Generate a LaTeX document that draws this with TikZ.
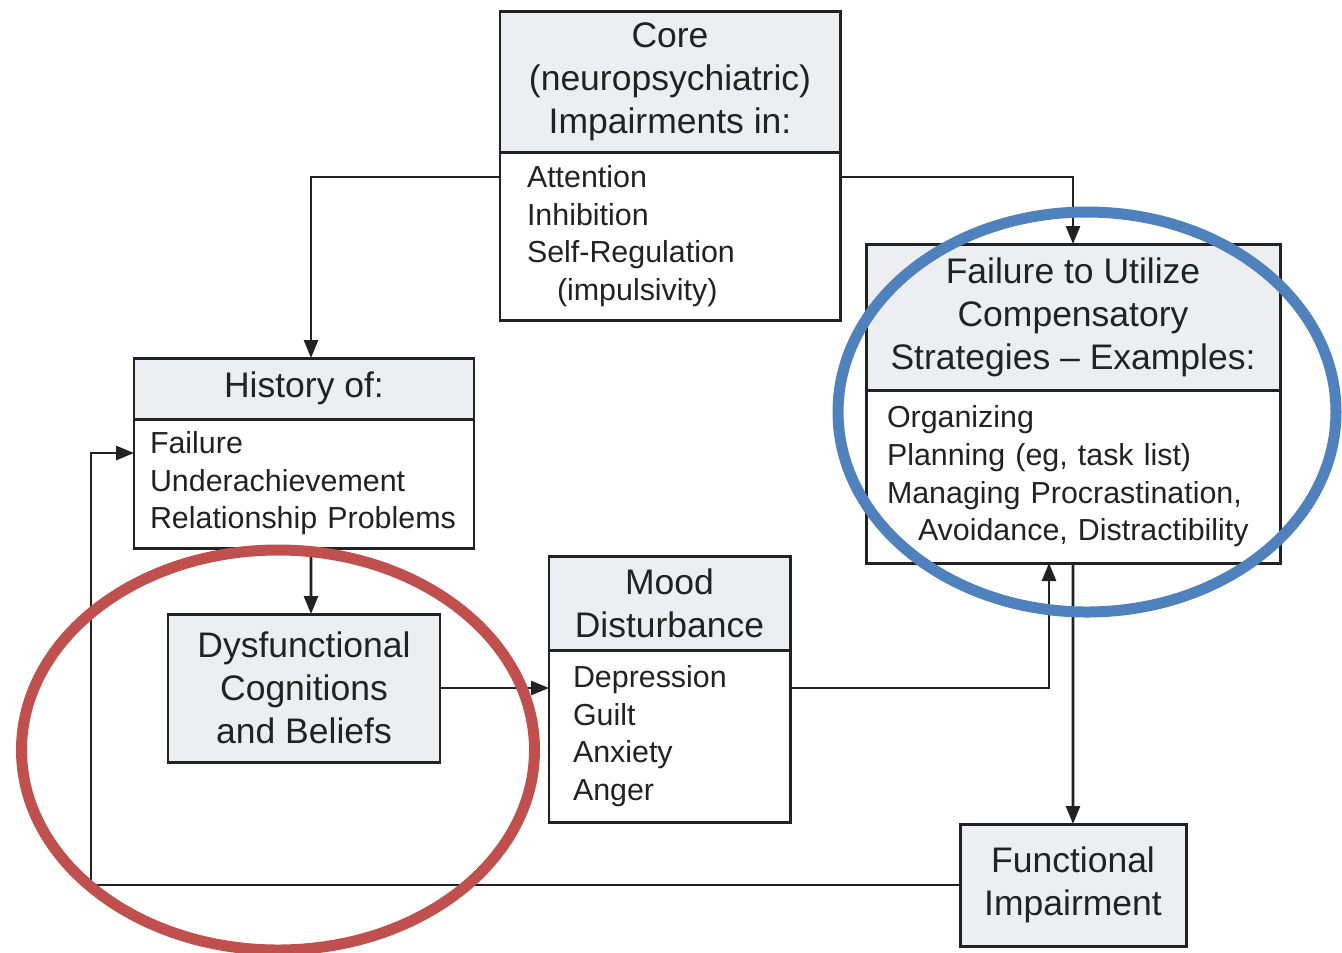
\documentclass[tikz,border=0pt]{standalone}
\usepackage{fontspec}
\setmainfont{Liberation Sans}
\usetikzlibrary{arrows.meta,positioning}

\definecolor{boxgray}{HTML}{EDEEF2}
\definecolor{inkgray}{HTML}{222222}
\definecolor{ringred}{HTML}{C0504D}
\definecolor{ringblue}{HTML}{4F81BD}

\tikzset{
  hdr/.style={draw=inkgray, fill=boxgray, line width=1.7pt, inner sep=0pt, outer sep=0pt,
    align=center, anchor=north west, text=inkgray, font=\fontsize{20.2}{24.4}\selectfont},
  bdy/.style={draw=inkgray, fill=white, line width=1.7pt, inner ysep=0pt, outer sep=0pt,
    align=left, text=inkgray, font=\fontsize{17.3}{21.4}\selectfont},
  link/.style={draw=inkgray, line width=1.6pt, -{Triangle[length=0.36cm,width=0.28cm]}},
  ring/.style={line width=0.22cm}
}

\begin{document}
\begin{tikzpicture}
  \useasboundingbox[fill=white] (0,0) rectangle (26.84,-19.04);

  % top box
  \node[hdr, minimum width=6.8cm, minimum height=2.82cm] (core) at (10.0,-0.22)
    {Core\\(neuropsychiatric)\\Impairments in:};
  \node[bdy, below=0pt of core, minimum height=3.36cm, text width=5.72cm, inner xsep=0.54cm] (corebody)
    {Attention\\Inhibition\\Self-Regulation\\\hspace*{0.6cm}(impulsivity)};

  % left column
  \node[hdr, minimum width=6.8cm, minimum height=1.22cm] (history) at (2.68,-7.16) {History of:};
  \node[bdy, below=0pt of history, minimum height=2.58cm, text width=6.16cm, inner xsep=0.32cm] (historybody)
    {Failure\\Underachievement\\Relationship Problems};
  \node[hdr, minimum width=5.44cm, minimum height=2.96cm] (dysf) at (3.36,-12.28)
    {Dysfunctional\\Cognitions\\and Beliefs};

  % middle
  \node[hdr, minimum width=4.82cm, minimum height=1.88cm] (mood) at (10.98,-11.12) {Mood\\Disturbance};
  \node[bdy, below=0pt of mood, minimum height=3.44cm, text width=3.86cm, inner xsep=0.48cm] (moodbody)
    {Depression\\Guilt\\Anxiety\\Anger};

  % right column
  \node[hdr, minimum width=8.28cm, minimum height=2.92cm] (failure) at (17.32,-4.88)
    {Failure to Utilize\\Compensatory\\Strategies -- Examples:};
  \node[bdy, below=0pt of failure, minimum height=3.46cm, text width=7.44cm, inner xsep=0.42cm] (failurebody)
    {Organizing\\Planning (eg, task list)\\Managing Procrastination,\\\hspace*{0.62cm}Avoidance, Distractibility};
  \node[hdr, minimum width=4.52cm, minimum height=2.44cm] (functional) at (19.2,-16.48)
    {Functional\\Impairment};

  % connectors
  \draw[link] ([yshift=-0.5cm]corebody.north west) -| ([xshift=0.14cm]history.north);
  \draw[link] ([yshift=-0.5cm]corebody.north east) -| (failure.north);
  \draw[link] ([xshift=0.14cm]historybody.south) -- ([xshift=0.14cm]dysf.north);
  \draw[link] (dysf.east) -- (dysf.east -| moodbody.west);
  \draw[link] (dysf.east -| moodbody.east) -| ([xshift=-0.48cm]failurebody.south);
  \draw[link] (failurebody.south) -- (functional.north);
  \coordinate (back) at (1.82,-17.7);
  \draw[link] (functional.west) -- (back) |- ([yshift=-0.68cm]historybody.north west);

  % highlight rings
  \draw[ringred, ring] (5.56,-15.0) ellipse [x radius=5.13cm, y radius=4.0cm];
  \draw[ringblue, ring] (21.74,-8.24) ellipse [x radius=4.98cm, y radius=4.0cm];
\end{tikzpicture}
\end{document}
